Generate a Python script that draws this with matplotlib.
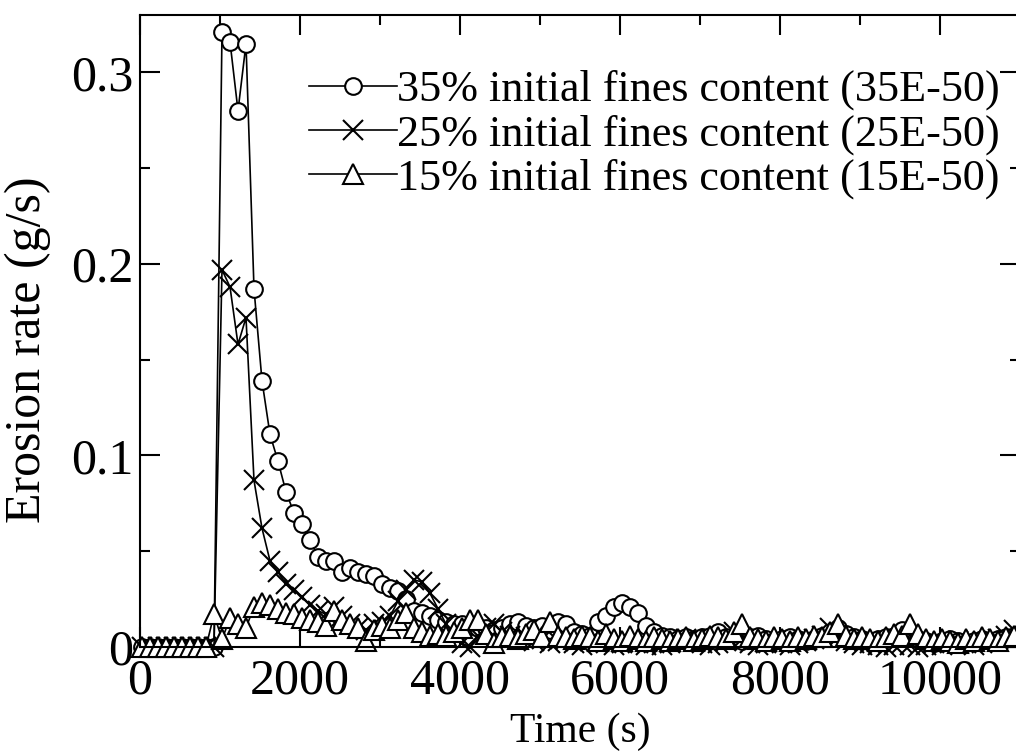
import numpy as np
import matplotlib
matplotlib.use('Agg')
import matplotlib.pyplot as plt
from matplotlib.ticker import MultipleLocator, FuncFormatter

plt.rcParams['font.family'] = 'Liberation Serif'

# sampling: one reading every 100 s
t_start = 25
t_step = 100

fines35 = [0, 0, 0, 0, 0, 0, 0, 0, 0, 0,
           0.321, 0.316, 0.280, 0.315, 0.187, 0.139, 0.111, 0.097, 0.081, 0.070,
           0.064, 0.056, 0.047, 0.045, 0.045, 0.039, 0.041, 0.039, 0.038, 0.037,
           0.033, 0.031, 0.029, 0.025, 0.019, 0.018, 0.016, 0.014, 0.013, 0.012,
           0.012, 0.011, 0.010, 0.010, 0.009, 0.010, 0.012, 0.013, 0.011, 0.010,
           0.011, 0.009, 0.013, 0.012, 0.008, 0.007, 0.006, 0.013, 0.016, 0.021,
           0.023, 0.021, 0.018, 0.011, 0.008, 0.006, 0.005, 0.004, 0.005, 0.004,
           0.005, 0.006, 0.008, 0.005, 0.004, 0.003, 0.005, 0.006, 0.004, 0.003,
           0.004, 0.005, 0.004, 0.003, 0.004, 0.006, 0.008, 0.010, 0.007, 0.005,
           0.004, 0.003, 0.004, 0.005, 0.006, 0.009, 0.007, 0.004, 0.003, 0.002,
           0.003, 0.004, 0.003, 0.002, 0.003, 0.004, 0.003, 0.004, 0.005, 0.006]

fines25 = [0, 0, 0, 0, 0, 0, 0, 0, 0, 0,
           0.197, 0.188, 0.158, 0.172, 0.087, 0.062, 0.045, 0.039, 0.033, 0.030,
           0.026, 0.022, 0.019, 0.017, 0.021, 0.016, 0.012, 0.010, 0.009, 0.012,
           0.013, 0.016, 0.024, 0.030, 0.035, 0.034, 0.028, 0.020, 0.012, 0.006,
           0.002, 0.000, 0.006, 0.010, 0.012, 0.008, 0.006, 0.004, 0.005, 0.003,
           0.004, 0.002, 0.003, 0.004, 0.002, 0.001, 0.003, 0.004, 0.002, 0.001,
           0.002, 0.003, 0.002, 0.001, 0.002, 0.001, 0.002, 0.003, 0.004, 0.003,
           0.002, 0.001, 0.002, 0.003, 0.008, 0.004, 0.002, 0.001, 0.002, 0.003,
           0.002, 0.001, 0.002, 0.003, 0.004, 0.006, 0.010, 0.005, 0.003, 0.002,
           0.001, 0.002, 0.001, 0.000, 0.001, 0.002, 0.001, 0.000, 0.001, 0.002,
           0.001, 0.002, 0.003, 0.002, 0.001, 0.002, 0.003, 0.004, 0.006, 0.009]

fines15 = [0, 0, 0, 0, 0, 0, 0, 0, 0, 0.017,
           0.004, 0.015, 0.012, 0.010, 0.021, 0.023, 0.022, 0.020, 0.018, 0.017,
           0.015, 0.014, 0.013, 0.011, 0.019, 0.014, 0.012, 0.010, 0.003, 0.009,
           0.011, 0.010, 0.014, 0.018, 0.010, 0.008, 0.006, 0.007, 0.006, 0.008,
           0.010, 0.014, 0.014, 0.007, 0.002, 0.005, 0.006, 0.004, 0.007, 0.009,
           0.005, 0.013, 0.006, 0.005, 0.004, 0.006, 0.005, 0.003, 0.007, 0.004,
           0.003, 0.006, 0.004, 0.003, 0.005, 0.004, 0.003, 0.004, 0.005, 0.003,
           0.004, 0.006, 0.005, 0.004, 0.008, 0.012, 0.005, 0.004, 0.003, 0.005,
           0.004, 0.003, 0.005, 0.004, 0.006, 0.005, 0.008, 0.012, 0.006, 0.004,
           0.005, 0.004, 0.003, 0.005, 0.007, 0.006, 0.012, 0.007, 0.004, 0.003,
           0.004, 0.003, 0.002, 0.004, 0.003, 0.005, 0.004, 0.003, 0.005, 0.006]

labels = ['35% initial fines content (35E-50)',
          '25% initial fines content (25E-50)',
          '15% initial fines content (15E-50)']


def main():
    fig = plt.figure(figsize=(10.16, 7.55), dpi=100)
    ax = fig.add_axes([140 / 1016, 1 - 647 / 755, 880 / 1016, 632 / 755])

    time = t_start + t_step * np.arange(len(fines35))

    ax.plot(time, fines35, '-', color='black', lw=1.2, marker='o', ms=12,
            mfc='white', mec='black', mew=1.5, clip_on=False, label=labels[0])
    ax.plot(time, fines25, '-', color='black', lw=1.2, marker='x', ms=14,
            mec='black', mew=1.5, clip_on=False, label=labels[1])
    ax.plot(time, fines15, '-', color='black', lw=1.2, marker='^', ms=14,
            mfc='white', mec='black', mew=1.5, clip_on=False, label=labels[2])

    ax.set_xlim(0, 11000)
    ax.set_ylim(0, 0.33)
    ax.xaxis.set_major_locator(MultipleLocator(2000))
    ax.xaxis.set_minor_locator(MultipleLocator(1000))
    ax.yaxis.set_major_locator(MultipleLocator(0.1))
    ax.yaxis.set_minor_locator(MultipleLocator(0.05))
    ax.yaxis.set_major_formatter(FuncFormatter(lambda v, p: '%g' % round(v, 3)))

    ax.tick_params(which='both', direction='in', top=True, right=True, width=1.5)
    ax.tick_params(which='major', length=14.5, labelsize=36)
    ax.tick_params(which='minor', length=7.5)
    ax.tick_params(axis='x', pad=8)
    ax.tick_params(axis='y', pad=5)
    for s in ax.spines.values():
        s.set_linewidth(1.5)

    ax.set_xlabel('Time (s)', fontsize=30, labelpad=6)
    ax.set_ylabel('Erosion rate (g/s)', fontsize=36)
    ax.yaxis.set_label_coords(-0.101, 0.47)

    ax.legend(loc='upper right', bbox_to_anchor=(1000 / 1016, 1 - 70 / 755),
              bbox_transform=fig.transFigure, frameon=False, fontsize=31.8,
              handlelength=2.0, handletextpad=0.0, labelspacing=0.08,
              borderpad=0, borderaxespad=0)

    fig.savefig('out.png', dpi=100)


if __name__ == '__main__':
    main()
